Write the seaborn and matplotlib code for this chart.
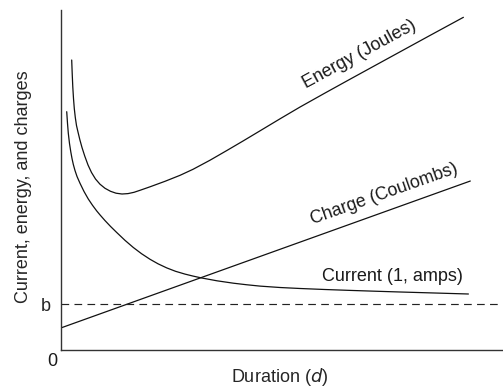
import matplotlib
matplotlib.use("Agg")
import matplotlib.pyplot as plt
import pandas as pd
import seaborn as sns

# Strength-duration relations (arbitrary units)
energy_x = [0.243, 0.255, 0.268, 0.284, 0.302, 0.325, 0.352, 0.386, 0.427,
            0.477, 0.539, 0.614, 0.693, 0.784, 0.886, 1.000, 1.125, 1.250,
            1.386, 1.523, 1.659, 1.795, 2.023, 2.364, 2.705, 3.000, 3.386,
            3.773, 4.136, 4.523, 4.977, 5.432, 6.000, 6.568, 7.136, 7.705,
            8.386, 9.143]
energy_y = [8.529, 8.118, 7.735, 7.397, 7.103, 6.838, 6.603, 6.412, 6.191,
            5.956, 5.706, 5.441, 5.221, 5.029, 4.876, 4.756, 4.668, 4.612,
            4.588, 4.600, 4.638, 4.697, 4.800, 4.962, 5.138, 5.315, 5.582,
            5.871, 6.147, 6.447, 6.800, 7.147, 7.559, 7.965, 8.368, 8.771,
            9.253, 9.785]

current_x = [0.130, 0.148, 0.166, 0.193, 0.223, 0.250, 0.280, 0.318, 0.364,
             0.432, 0.523, 0.620, 0.716, 0.811, 0.886, 1.000, 1.125, 1.266,
             1.455, 1.643, 1.830, 2.023, 2.205, 2.402, 2.602, 2.818, 3.000,
             3.198, 3.545, 3.916, 4.205, 4.523, 4.977, 5.432, 6.000, 6.568,
             7.136, 7.705, 8.500, 9.257]
current_y = [7.009, 6.662, 6.374, 6.074, 5.824, 5.632, 5.456, 5.279, 5.103,
             4.903, 4.662, 4.441, 4.256, 4.091, 3.974, 3.806, 3.635, 3.456,
             3.224, 3.015, 2.832, 2.668, 2.535, 2.415, 2.315, 2.232, 2.174,
             2.118, 2.035, 1.965, 1.921, 1.879, 1.838, 1.809, 1.779, 1.753,
             1.729, 1.706, 1.676, 1.647]

charge_x = [0.00, 9.30]
charge_y = [0.65, 4.97]

rheobase = 1.35

curve_labels = ["Energy (Joules)", "Charge (Coulombs)", "Current (1, amps)"]
axis_labels = ["Duration (", "d", ")", "Current, energy, and charges"]

sns.set_theme(style="white")
plt.rcParams["font.family"] = ["Liberation Sans", "DejaVu Sans"]
plt.rcParams["text.color"] = "#1a1a1a"

fig = plt.figure(figsize=(5.03, 3.87), dpi=100)
ax = fig.add_axes([61 / 503, 37 / 387, 441 / 503, 340 / 387])

frames = {
    "energy": pd.DataFrame({"x": energy_x, "y": energy_y}),
    "current": pd.DataFrame({"x": current_x, "y": current_y}),
    "charge": pd.DataFrame({"x": charge_x, "y": charge_y}),
}
for df in frames.values():
    sns.lineplot(data=df, x="x", y="y", ax=ax, sort=False, estimator=None,
                 color="#111111", linewidth=0.9)

ax.axhline(rheobase, color="#222222", linewidth=0.85, dashes=(6.5, 4.5))

ax.set_xlim(0, 10.02)
ax.set_ylim(0, 10)

sns.despine(ax=ax)
for side in ("left", "bottom"):
    ax.spines[side].set_color("#333333")
    ax.spines[side].set_linewidth(1.0)

fs = 13
ax.set_xticks([])
ax.set_yticks([rheobase])
ax.set_yticklabels(["b"], fontsize=fs)
ax.tick_params(axis="y", length=0, pad=7)
ax.text(-0.02, -0.033, "0", transform=ax.transAxes, ha="center", va="center",
        fontsize=fs)

ax.set_xlabel(axis_labels[0] + r"$\it{" + axis_labels[1] + "}$" + axis_labels[2],
              fontsize=fs)
ax.xaxis.set_label_coords(0.497, -0.046)
ax.set_ylabel(axis_labels[3], fontsize=fs)
ax.yaxis.set_label_coords(-0.065, 0.479)

ax.text(6.82, 8.57, curve_labels[0], rotation=28.5, rotation_mode="anchor",
        ha="center", va="baseline", fontsize=fs)
ax.text(7.37, 4.47, curve_labels[1], rotation=19.5, rotation_mode="anchor",
        ha="center", va="baseline", fontsize=12.8)
ax.text(7.52, 2.04, curve_labels[2], ha="center", va="baseline", fontsize=fs)

fig.savefig("out.png", dpi=100)
